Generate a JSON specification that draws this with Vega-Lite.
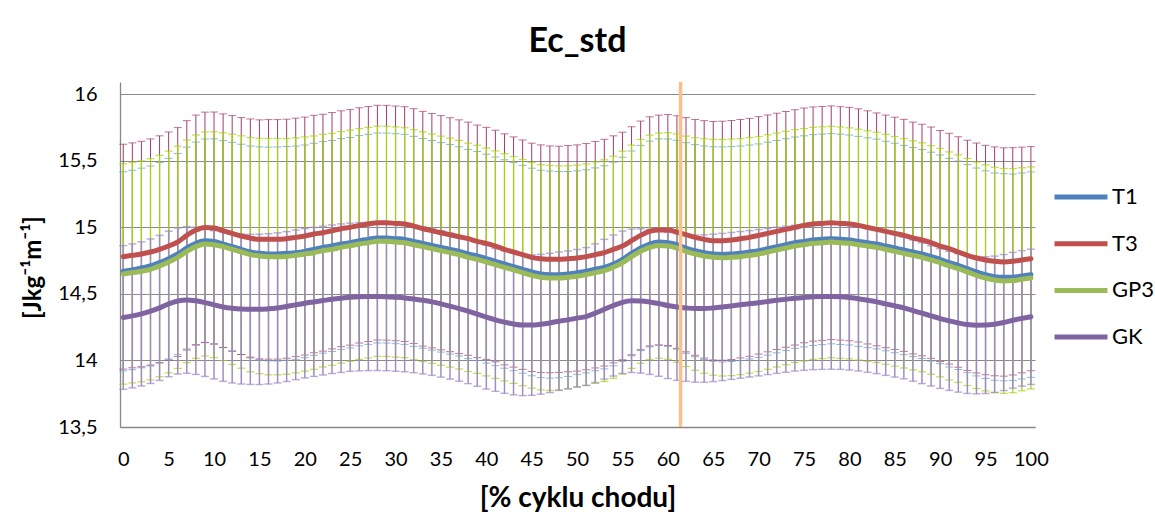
{
  "$schema": "https://vega.github.io/schema/vega-lite/v6.json",
  "width": 915,
  "height": 345,
  "autosize": {"type": "none"},
  "padding": {"left": 120, "top": 82, "right": 120, "bottom": 85},
  "background": "white",
  "title": {
    "text": "Ec_std",
    "font": "Lato",
    "fontSize": 34,
    "fontWeight": "bold",
    "color": "#000000",
    "anchor": "middle",
    "frame": "group",
    "offset": 21
  },
  "datasets": {
    "ec": [
      {"x":0,"T1":14.67,"T1e":0.748,"T3":14.78,"T3e":0.845,"GP3":14.65,"GP3e":0.828,"GK":14.323,"GKe":0.54},
      {"x":1,"T1":14.68,"T1e":0.749,"T3":14.79,"T3e":0.845,"GP3":14.66,"GP3e":0.829,"GK":14.335,"GKe":0.541},
      {"x":2,"T1":14.695,"T1e":0.75,"T3":14.8,"T3e":0.847,"GP3":14.67,"GP3e":0.83,"GK":14.35,"GKe":0.542},
      {"x":3,"T1":14.71,"T1e":0.751,"T3":14.815,"T3e":0.85,"GP3":14.685,"GP3e":0.831,"GK":14.37,"GKe":0.543},
      {"x":4,"T1":14.735,"T1e":0.752,"T3":14.835,"T3e":0.853,"GP3":14.71,"GP3e":0.832,"GK":14.395,"GKe":0.545},
      {"x":5,"T1":14.765,"T1e":0.754,"T3":14.86,"T3e":0.857,"GP3":14.74,"GP3e":0.833,"GK":14.425,"GKe":0.547},
      {"x":6,"T1":14.8,"T1e":0.756,"T3":14.89,"T3e":0.86,"GP3":14.775,"GP3e":0.835,"GK":14.447,"GKe":0.549},
      {"x":7,"T1":14.845,"T1e":0.758,"T3":14.94,"T3e":0.862,"GP3":14.82,"GP3e":0.837,"GK":14.455,"GKe":0.551},
      {"x":8,"T1":14.88,"T1e":0.761,"T3":14.98,"T3e":0.864,"GP3":14.855,"GP3e":0.839,"GK":14.448,"GKe":0.553},
      {"x":9,"T1":14.9,"T1e":0.764,"T3":15.0,"T3e":0.866,"GP3":14.875,"GP3e":0.842,"GK":14.435,"GKe":0.555},
      {"x":10,"T1":14.895,"T1e":0.77,"T3":14.995,"T3e":0.872,"GP3":14.87,"GP3e":0.848,"GK":14.418,"GKe":0.557},
      {"x":11,"T1":14.875,"T1e":0.777,"T3":14.975,"T3e":0.878,"GP3":14.855,"GP3e":0.856,"GK":14.402,"GKe":0.559},
      {"x":12,"T1":14.855,"T1e":0.784,"T3":14.955,"T3e":0.885,"GP3":14.835,"GP3e":0.865,"GK":14.392,"GKe":0.561},
      {"x":13,"T1":14.835,"T1e":0.79,"T3":14.935,"T3e":0.89,"GP3":14.815,"GP3e":0.873,"GK":14.386,"GKe":0.563},
      {"x":14,"T1":14.815,"T1e":0.796,"T3":14.92,"T3e":0.895,"GP3":14.795,"GP3e":0.88,"GK":14.384,"GKe":0.564},
      {"x":15,"T1":14.805,"T1e":0.8,"T3":14.91,"T3e":0.898,"GP3":14.785,"GP3e":0.885,"GK":14.384,"GKe":0.565},
      {"x":16,"T1":14.8,"T1e":0.803,"T3":14.91,"T3e":0.9,"GP3":14.78,"GP3e":0.888,"GK":14.388,"GKe":0.565},
      {"x":17,"T1":14.8,"T1e":0.804,"T3":14.91,"T3e":0.9,"GP3":14.78,"GP3e":0.888,"GK":14.395,"GKe":0.564},
      {"x":18,"T1":14.805,"T1e":0.803,"T3":14.915,"T3e":0.898,"GP3":14.782,"GP3e":0.886,"GK":14.405,"GKe":0.563},
      {"x":19,"T1":14.81,"T1e":0.801,"T3":14.925,"T3e":0.896,"GP3":14.79,"GP3e":0.883,"GK":14.418,"GKe":0.562},
      {"x":20,"T1":14.82,"T1e":0.799,"T3":14.935,"T3e":0.894,"GP3":14.8,"GP3e":0.88,"GK":14.43,"GKe":0.561},
      {"x":21,"T1":14.835,"T1e":0.797,"T3":14.95,"T3e":0.892,"GP3":14.81,"GP3e":0.877,"GK":14.44,"GKe":0.56},
      {"x":22,"T1":14.85,"T1e":0.795,"T3":14.96,"T3e":0.89,"GP3":14.825,"GP3e":0.874,"GK":14.45,"GKe":0.559},
      {"x":23,"T1":14.86,"T1e":0.793,"T3":14.975,"T3e":0.888,"GP3":14.835,"GP3e":0.872,"GK":14.46,"GKe":0.558},
      {"x":24,"T1":14.875,"T1e":0.792,"T3":14.99,"T3e":0.886,"GP3":14.85,"GP3e":0.87,"GK":14.468,"GKe":0.558},
      {"x":25,"T1":14.885,"T1e":0.791,"T3":15.0,"T3e":0.885,"GP3":14.862,"GP3e":0.868,"GK":14.475,"GKe":0.557},
      {"x":26,"T1":14.9,"T1e":0.79,"T3":15.015,"T3e":0.884,"GP3":14.875,"GP3e":0.867,"GK":14.479,"GKe":0.557},
      {"x":27,"T1":14.91,"T1e":0.789,"T3":15.025,"T3e":0.883,"GP3":14.885,"GP3e":0.866,"GK":14.481,"GKe":0.557},
      {"x":28,"T1":14.92,"T1e":0.789,"T3":15.035,"T3e":0.882,"GP3":14.895,"GP3e":0.865,"GK":14.481,"GKe":0.557},
      {"x":29,"T1":14.92,"T1e":0.789,"T3":15.035,"T3e":0.882,"GP3":14.895,"GP3e":0.865,"GK":14.479,"GKe":0.556},
      {"x":30,"T1":14.915,"T1e":0.789,"T3":15.03,"T3e":0.882,"GP3":14.89,"GP3e":0.865,"GK":14.475,"GKe":0.556},
      {"x":31,"T1":14.91,"T1e":0.789,"T3":15.025,"T3e":0.882,"GP3":14.885,"GP3e":0.864,"GK":14.47,"GKe":0.555},
      {"x":32,"T1":14.895,"T1e":0.789,"T3":15.01,"T3e":0.882,"GP3":14.87,"GP3e":0.864,"GK":14.462,"GKe":0.554},
      {"x":33,"T1":14.88,"T1e":0.788,"T3":14.99,"T3e":0.882,"GP3":14.855,"GP3e":0.863,"GK":14.452,"GKe":0.553},
      {"x":34,"T1":14.865,"T1e":0.788,"T3":14.975,"T3e":0.881,"GP3":14.84,"GP3e":0.862,"GK":14.44,"GKe":0.552},
      {"x":35,"T1":14.85,"T1e":0.787,"T3":14.96,"T3e":0.88,"GP3":14.825,"GP3e":0.861,"GK":14.425,"GKe":0.55},
      {"x":36,"T1":14.835,"T1e":0.787,"T3":14.945,"T3e":0.879,"GP3":14.81,"GP3e":0.86,"GK":14.408,"GKe":0.548},
      {"x":37,"T1":14.82,"T1e":0.786,"T3":14.93,"T3e":0.878,"GP3":14.795,"GP3e":0.859,"GK":14.39,"GKe":0.546},
      {"x":38,"T1":14.8,"T1e":0.786,"T3":14.915,"T3e":0.876,"GP3":14.775,"GP3e":0.858,"GK":14.37,"GKe":0.544},
      {"x":39,"T1":14.785,"T1e":0.785,"T3":14.895,"T3e":0.874,"GP3":14.76,"GP3e":0.857,"GK":14.348,"GKe":0.542},
      {"x":40,"T1":14.765,"T1e":0.785,"T3":14.88,"T3e":0.872,"GP3":14.74,"GP3e":0.856,"GK":14.325,"GKe":0.54},
      {"x":41,"T1":14.745,"T1e":0.784,"T3":14.86,"T3e":0.87,"GP3":14.72,"GP3e":0.855,"GK":14.305,"GKe":0.537},
      {"x":42,"T1":14.725,"T1e":0.783,"T3":14.835,"T3e":0.868,"GP3":14.7,"GP3e":0.854,"GK":14.288,"GKe":0.535},
      {"x":43,"T1":14.705,"T1e":0.782,"T3":14.815,"T3e":0.865,"GP3":14.68,"GP3e":0.852,"GK":14.274,"GKe":0.532},
      {"x":44,"T1":14.685,"T1e":0.781,"T3":14.795,"T3e":0.862,"GP3":14.66,"GP3e":0.85,"GK":14.266,"GKe":0.53},
      {"x":45,"T1":14.665,"T1e":0.78,"T3":14.775,"T3e":0.858,"GP3":14.64,"GP3e":0.848,"GK":14.266,"GKe":0.528},
      {"x":46,"T1":14.65,"T1e":0.779,"T3":14.765,"T3e":0.855,"GP3":14.625,"GP3e":0.846,"GK":14.272,"GKe":0.525},
      {"x":47,"T1":14.645,"T1e":0.778,"T3":14.76,"T3e":0.852,"GP3":14.62,"GP3e":0.845,"GK":14.282,"GKe":0.523},
      {"x":48,"T1":14.645,"T1e":0.775,"T3":14.76,"T3e":0.85,"GP3":14.62,"GP3e":0.842,"GK":14.295,"GKe":0.52},
      {"x":49,"T1":14.65,"T1e":0.77,"T3":14.765,"T3e":0.85,"GP3":14.625,"GP3e":0.838,"GK":14.305,"GKe":0.518},
      {"x":50,"T1":14.66,"T1e":0.765,"T3":14.77,"T3e":0.85,"GP3":14.633,"GP3e":0.834,"GK":14.318,"GKe":0.516},
      {"x":51,"T1":14.67,"T1e":0.763,"T3":14.78,"T3e":0.85,"GP3":14.645,"GP3e":0.832,"GK":14.33,"GKe":0.518},
      {"x":52,"T1":14.685,"T1e":0.762,"T3":14.795,"T3e":0.851,"GP3":14.66,"GP3e":0.832,"GK":14.355,"GKe":0.521},
      {"x":53,"T1":14.7,"T1e":0.763,"T3":14.81,"T3e":0.852,"GP3":14.675,"GP3e":0.833,"GK":14.385,"GKe":0.525},
      {"x":54,"T1":14.725,"T1e":0.765,"T3":14.835,"T3e":0.853,"GP3":14.7,"GP3e":0.835,"GK":14.413,"GKe":0.53},
      {"x":55,"T1":14.76,"T1e":0.767,"T3":14.86,"T3e":0.855,"GP3":14.735,"GP3e":0.837,"GK":14.437,"GKe":0.535},
      {"x":56,"T1":14.805,"T1e":0.769,"T3":14.9,"T3e":0.857,"GP3":14.78,"GP3e":0.839,"GK":14.448,"GKe":0.539},
      {"x":57,"T1":14.845,"T1e":0.771,"T3":14.94,"T3e":0.859,"GP3":14.82,"GP3e":0.841,"GK":14.447,"GKe":0.542},
      {"x":58,"T1":14.875,"T1e":0.773,"T3":14.97,"T3e":0.861,"GP3":14.85,"GP3e":0.843,"GK":14.44,"GKe":0.545},
      {"x":59,"T1":14.89,"T1e":0.775,"T3":14.98,"T3e":0.864,"GP3":14.863,"GP3e":0.846,"GK":14.428,"GKe":0.547},
      {"x":60,"T1":14.885,"T1e":0.779,"T3":14.98,"T3e":0.868,"GP3":14.86,"GP3e":0.851,"GK":14.413,"GKe":0.549},
      {"x":61,"T1":14.87,"T1e":0.785,"T3":14.965,"T3e":0.874,"GP3":14.845,"GP3e":0.858,"GK":14.402,"GKe":0.551},
      {"x":62,"T1":14.845,"T1e":0.791,"T3":14.945,"T3e":0.88,"GP3":14.82,"GP3e":0.866,"GK":14.395,"GKe":0.552},
      {"x":63,"T1":14.825,"T1e":0.797,"T3":14.925,"T3e":0.886,"GP3":14.8,"GP3e":0.874,"GK":14.39,"GKe":0.553},
      {"x":64,"T1":14.81,"T1e":0.802,"T3":14.91,"T3e":0.892,"GP3":14.785,"GP3e":0.881,"GK":14.39,"GKe":0.554},
      {"x":65,"T1":14.8,"T1e":0.806,"T3":14.9,"T3e":0.896,"GP3":14.775,"GP3e":0.886,"GK":14.395,"GKe":0.554},
      {"x":66,"T1":14.797,"T1e":0.808,"T3":14.9,"T3e":0.898,"GP3":14.772,"GP3e":0.889,"GK":14.402,"GKe":0.553},
      {"x":67,"T1":14.8,"T1e":0.808,"T3":14.905,"T3e":0.898,"GP3":14.775,"GP3e":0.889,"GK":14.41,"GKe":0.552},
      {"x":68,"T1":14.805,"T1e":0.806,"T3":14.915,"T3e":0.896,"GP3":14.78,"GP3e":0.887,"GK":14.418,"GKe":0.551},
      {"x":69,"T1":14.815,"T1e":0.804,"T3":14.925,"T3e":0.894,"GP3":14.79,"GP3e":0.885,"GK":14.426,"GKe":0.55},
      {"x":70,"T1":14.825,"T1e":0.802,"T3":14.94,"T3e":0.892,"GP3":14.8,"GP3e":0.883,"GK":14.434,"GKe":0.55},
      {"x":71,"T1":14.84,"T1e":0.8,"T3":14.955,"T3e":0.89,"GP3":14.815,"GP3e":0.881,"GK":14.443,"GKe":0.549},
      {"x":72,"T1":14.855,"T1e":0.798,"T3":14.97,"T3e":0.888,"GP3":14.83,"GP3e":0.879,"GK":14.452,"GKe":0.549},
      {"x":73,"T1":14.87,"T1e":0.796,"T3":14.985,"T3e":0.886,"GP3":14.845,"GP3e":0.877,"GK":14.46,"GKe":0.549},
      {"x":74,"T1":14.885,"T1e":0.794,"T3":15.0,"T3e":0.884,"GP3":14.86,"GP3e":0.875,"GK":14.468,"GKe":0.548},
      {"x":75,"T1":14.895,"T1e":0.793,"T3":15.015,"T3e":0.882,"GP3":14.87,"GP3e":0.873,"GK":14.474,"GKe":0.548},
      {"x":76,"T1":14.905,"T1e":0.792,"T3":15.025,"T3e":0.88,"GP3":14.88,"GP3e":0.872,"GK":14.479,"GKe":0.548},
      {"x":77,"T1":14.91,"T1e":0.791,"T3":15.03,"T3e":0.879,"GP3":14.885,"GP3e":0.871,"GK":14.481,"GKe":0.548},
      {"x":78,"T1":14.915,"T1e":0.79,"T3":15.035,"T3e":0.878,"GP3":14.89,"GP3e":0.87,"GK":14.481,"GKe":0.547},
      {"x":79,"T1":14.91,"T1e":0.79,"T3":15.03,"T3e":0.877,"GP3":14.885,"GP3e":0.869,"GK":14.479,"GKe":0.546},
      {"x":80,"T1":14.905,"T1e":0.789,"T3":15.025,"T3e":0.877,"GP3":14.88,"GP3e":0.868,"GK":14.473,"GKe":0.545},
      {"x":81,"T1":14.895,"T1e":0.789,"T3":15.015,"T3e":0.876,"GP3":14.87,"GP3e":0.867,"GK":14.464,"GKe":0.543},
      {"x":82,"T1":14.885,"T1e":0.788,"T3":15.0,"T3e":0.876,"GP3":14.86,"GP3e":0.866,"GK":14.452,"GKe":0.541},
      {"x":83,"T1":14.875,"T1e":0.788,"T3":14.985,"T3e":0.875,"GP3":14.85,"GP3e":0.865,"GK":14.44,"GKe":0.539},
      {"x":84,"T1":14.86,"T1e":0.787,"T3":14.97,"T3e":0.874,"GP3":14.835,"GP3e":0.864,"GK":14.425,"GKe":0.537},
      {"x":85,"T1":14.845,"T1e":0.787,"T3":14.955,"T3e":0.873,"GP3":14.82,"GP3e":0.863,"GK":14.41,"GKe":0.535},
      {"x":86,"T1":14.83,"T1e":0.786,"T3":14.94,"T3e":0.872,"GP3":14.805,"GP3e":0.862,"GK":14.395,"GKe":0.533},
      {"x":87,"T1":14.815,"T1e":0.786,"T3":14.92,"T3e":0.871,"GP3":14.79,"GP3e":0.861,"GK":14.375,"GKe":0.531},
      {"x":88,"T1":14.8,"T1e":0.785,"T3":14.905,"T3e":0.87,"GP3":14.775,"GP3e":0.86,"GK":14.355,"GKe":0.529},
      {"x":89,"T1":14.78,"T1e":0.785,"T3":14.885,"T3e":0.869,"GP3":14.755,"GP3e":0.859,"GK":14.335,"GKe":0.527},
      {"x":90,"T1":14.76,"T1e":0.784,"T3":14.86,"T3e":0.868,"GP3":14.735,"GP3e":0.858,"GK":14.315,"GKe":0.525},
      {"x":91,"T1":14.735,"T1e":0.784,"T3":14.84,"T3e":0.867,"GP3":14.71,"GP3e":0.857,"GK":14.297,"GKe":0.522},
      {"x":92,"T1":14.715,"T1e":0.783,"T3":14.815,"T3e":0.866,"GP3":14.69,"GP3e":0.855,"GK":14.282,"GKe":0.52},
      {"x":93,"T1":14.69,"T1e":0.782,"T3":14.79,"T3e":0.865,"GP3":14.665,"GP3e":0.853,"GK":14.27,"GKe":0.518},
      {"x":94,"T1":14.665,"T1e":0.781,"T3":14.77,"T3e":0.864,"GP3":14.64,"GP3e":0.851,"GK":14.265,"GKe":0.516},
      {"x":95,"T1":14.645,"T1e":0.78,"T3":14.755,"T3e":0.862,"GP3":14.62,"GP3e":0.849,"GK":14.266,"GKe":0.514},
      {"x":96,"T1":14.63,"T1e":0.779,"T3":14.745,"T3e":0.86,"GP3":14.605,"GP3e":0.847,"GK":14.272,"GKe":0.512},
      {"x":97,"T1":14.625,"T1e":0.778,"T3":14.74,"T3e":0.858,"GP3":14.598,"GP3e":0.845,"GK":14.285,"GKe":0.511},
      {"x":98,"T1":14.625,"T1e":0.776,"T3":14.745,"T3e":0.854,"GP3":14.6,"GP3e":0.842,"GK":14.302,"GKe":0.51},
      {"x":99,"T1":14.635,"T1e":0.774,"T3":14.755,"T3e":0.848,"GP3":14.61,"GP3e":0.838,"GK":14.316,"GKe":0.509},
      {"x":100,"T1":14.645,"T1e":0.772,"T3":14.765,"T3e":0.842,"GP3":14.62,"GP3e":0.834,"GK":14.328,"GKe":0.508}
    ],
    "marker": [{"x": 61.4}]
  },
  "data": {"name": "ec"},
  "encoding": {
    "x": {
      "field": "x",
      "type": "quantitative",
      "title": "[% cyklu chodu]",
      "scale": {"domain": [-0.36, 100.45], "nice": false, "zero": false},
      "axis": {
        "values": [0,5,10,15,20,25,30,35,40,45,50,55,60,65,70,75,80,85,90,95,100],
        "grid": false,
        "ticks": false,
        "labelFlush": false,
        "labelOverlap": false,
        "labelPadding": 22,
        "titleFontSize": 28,
        "titleY": 71,
        "titleBaseline": "middle"
      }
    }
  },
  "layer": [
    {
      "mark": {"type": "errorbar", "ticks": true, "color": "#5E95D5", "thickness": 1, "size": 8},
      "encoding": {
        "y": {"field": "T1", "type": "quantitative", "title": "[Jkg⁻¹m⁻¹]",
              "scale": {"domain": [13.5, 16.0925], "nice": false, "zero": false},
              "axis": {
                "values": [13.5, 14, 14.5, 15, 15.5, 16],
                "labelExpr": "replace(toString(datum.value), '.', ',')",
                "ticks": false,
                "labelPadding": 23,
                "titleX": -87,
                "titleY": 185,
                "titleBaseline": "middle",
                "titleAlign": "center"
              }},
        "yError": {"field": "T1e"}
      }
    },
    {
      "mark": {"type": "errorbar", "ticks": true, "color": "#A33A6C", "thickness": 1, "size": 8},
      "encoding": {
        "y": {"field": "T3", "type": "quantitative", "title": "[Jkg⁻¹m⁻¹]",
              "scale": {"domain": [13.5, 16.0925], "nice": false, "zero": false}},
        "yError": {"field": "T3e"}
      }
    },
    {
      "mark": {"type": "errorbar", "ticks": true, "color": "#A2D40E", "thickness": 1.25, "size": 8},
      "encoding": {
        "y": {"field": "GP3", "type": "quantitative", "title": "[Jkg⁻¹m⁻¹]",
              "scale": {"domain": [13.5, 16.0925], "nice": false, "zero": false}},
        "yError": {"field": "GP3e"}
      }
    },
    {
      "mark": {"type": "errorbar", "ticks": true, "color": "#9E89C3", "thickness": 1.45, "size": 8},
      "encoding": {
        "y": {"field": "GK", "type": "quantitative", "title": "[Jkg⁻¹m⁻¹]",
              "scale": {"domain": [13.5, 16.0925], "nice": false, "zero": false}},
        "yError": {"field": "GKe"}
      }
    },
    {
      "transform": [{"fold": ["T1", "T3", "GP3", "GK"], "as": ["s", "v"]}],
      "mark": {"type": "line", "strokeWidth": 5, "interpolate": "monotone", "strokeCap": "round"},
      "encoding": {
        "y": {"field": "v", "type": "quantitative", "title": "[Jkg⁻¹m⁻¹]",
              "scale": {"domain": [13.5, 16.0925], "nice": false, "zero": false}},
        "color": {
          "field": "s",
          "type": "nominal",
          "scale": {"domain": ["T1", "T3", "GP3", "GK"], "range": ["#4F81BD", "#C0504D", "#9BBB59", "#8064A2"]},
          "legend": {
            "title": null,
            "orient": "none",
            "legendX": 932,
            "legendY": 93,
            "symbolType": "stroke",
            "symbolSize": 2809,
            "symbolStrokeWidth": 5,
            "labelFont": "Lato",
            "labelFontSize": 22,
            "labelColor": "#000000",
            "labelOffset": 2,
            "clipHeight": 44,
            "rowPadding": 2.7,
            "padding": 0
          }
        }
      }
    },
    {
      "data": {"name": "marker"},
      "mark": {"type": "rule", "color": "#FBBF8B", "strokeWidth": 3.5}
    }
  ],
  "config": {
    "view": {"stroke": null},
    "font": "Lato",
    "axis": {
      "labelFont": "Lato",
      "labelFontSize": 20,
      "labelColor": "#000000",
      "titleFont": "Lato",
      "titleFontSize": 24,
      "titleFontWeight": "bold",
      "titleColor": "#000000",
      "domainColor": "#878787",
      "domainWidth": 1.3,
      "gridColor": "#8a8a8a",
      "gridWidth": 1
    }
  }
}
